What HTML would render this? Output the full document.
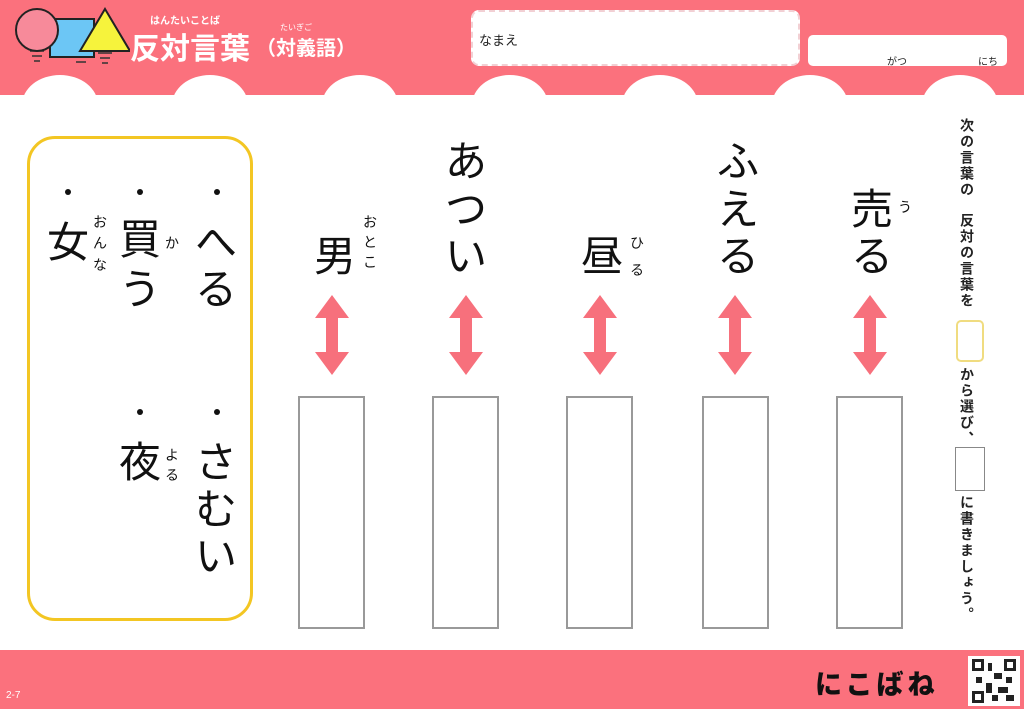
<!DOCTYPE html>
<html><head><meta charset="utf-8"><style>
body{margin:0;width:1024px;height:709px;position:relative;overflow:hidden;background:#fff;font-family:"Liberation Sans","Noto Sans CJK JP",sans-serif}
.a{position:absolute}
.c{position:absolute;width:60px;text-align:center;line-height:1;color:#111}
.b{font-size:42px}
.r{font-size:14px;width:20px}
.dot{position:absolute;width:6px;height:6px;border-radius:50%;background:#111}
.box{position:absolute;border:2px solid #999;background:#fff;box-sizing:border-box}
.bump{position:absolute;top:75px;width:76px;height:60px;border-radius:50%;background:#fff}
.ins{position:absolute;left:957px;writing-mode:vertical-rl;font-size:14px;font-weight:bold;color:#222;letter-spacing:2px}
</style></head><body>
<div class="a" style="left:0;top:0;width:1024px;height:95px;background:#fb717d"></div>
<div class="bump" style="left:22px"></div><div class="bump" style="left:172px"></div><div class="bump" style="left:322px"></div><div class="bump" style="left:472px"></div><div class="bump" style="left:622px"></div><div class="bump" style="left:772px"></div><div class="bump" style="left:922px"></div>
<div class="a" style="left:0;top:95px;width:1024px;height:20px;background:#fff"></div>
<svg class="a" style="left:10px;top:5px" width="120" height="65">
<g stroke="#333" stroke-width="1.5" fill="none"><path d="M20 46h14M22 51h10M24 56h6M64 52h14M66 57h10M88 48h14M90 53h10M92 58h6"/></g>
<rect x="40" y="14" width="44" height="38" fill="#6cc6f5" stroke="#222" stroke-width="2"/>
<circle cx="27" cy="25" r="21" fill="#f78a9a" stroke="#222" stroke-width="2"/>
<polygon points="95,4 120,46 70,46" fill="#f6f33c" stroke="#222" stroke-width="2"/>
</svg>
<div class="a" style="left:150px;top:12px;font-size:10px;color:#fff;font-weight:bold">はんたいことば</div>
<div class="a" style="left:130px;top:24px;font-size:30px;color:#fff;font-weight:bold">反対言葉</div>
<div class="a" style="left:280px;top:22px;font-size:8px;color:#fff">たいぎご</div>
<div class="a" style="left:256px;top:32px;font-size:20px;color:#fff;font-weight:bold">（対義語）</div>
<div class="a" style="left:471px;top:10px;width:329px;height:56px;background:#fff;border:2px dashed #f2d0d4;border-radius:8px;box-sizing:border-box"></div>
<div class="a" style="left:479px;top:30px;font-size:13px;color:#222">なまえ</div>
<div class="a" style="left:808px;top:35px;width:199px;height:31px;background:#fff;border-radius:5px"></div>
<div class="a" style="left:887px;top:53px;font-size:10px;color:#222">がつ</div>
<div class="a" style="left:978px;top:53px;font-size:10px;color:#222">にち</div>

<div class="a" style="left:27px;top:136px;width:226px;height:485px;border:3px solid #f3c623;border-radius:28px;box-sizing:border-box"></div>
<div class="dot" style="left:65px;top:189px"></div><div class="dot" style="left:137px;top:189px"></div><div class="dot" style="left:214px;top:189px"></div><div class="dot" style="left:137px;top:409px"></div><div class="dot" style="left:214px;top:409px"></div>
<div class="c b" style="left:38px;top:222px">女</div>
<div class="c r" style="left:90px;top:215px">お</div><div class="c r" style="left:90px;top:236px">ん</div><div class="c r" style="left:90px;top:258px">な</div>
<div class="c b" style="left:110px;top:219px">買</div><div class="c b" style="left:110px;top:269px">う</div><div class="c r" style="left:162px;top:236px">か</div>
<div class="c b" style="left:186px;top:222px">へ</div><div class="c b" style="left:186px;top:269px">る</div>
<div class="c b" style="left:110px;top:442px">夜</div><div class="c r" style="left:162px;top:448px">よ</div><div class="c r" style="left:162px;top:468px">る</div>
<div class="c b" style="left:186px;top:442px">さ</div><div class="c b" style="left:186px;top:489px">む</div><div class="c b" style="left:186px;top:536px">い</div>

<div class="c b" style="left:305px;top:236px">男</div><div class="c r" style="left:360px;top:215px">お</div><div class="c r" style="left:360px;top:235px">と</div><div class="c r" style="left:360px;top:255px">こ</div>
<div class="c b" style="left:436px;top:141px">あ</div><div class="c b" style="left:436px;top:189px">つ</div><div class="c b" style="left:436px;top:236px">い</div>
<div class="c b" style="left:572px;top:236px">昼</div><div class="c r" style="left:627px;top:236px">ひ</div><div class="c r" style="left:627px;top:263px">る</div>
<div class="c b" style="left:708px;top:141px">ふ</div><div class="c b" style="left:708px;top:189px">え</div><div class="c b" style="left:708px;top:236px">る</div>
<div class="c b" style="left:842px;top:189px">売</div><div class="c b" style="left:842px;top:236px">る</div><div class="c r" style="left:895px;top:200px">う</div>

<svg class="a" style="left:0;top:290px" width="930" height="90">
<defs><g id="ar" fill="#f7707c"><polygon points="0,5 -17,28 -6,28 -6,62 -17,62 0,85 17,62 6,62 6,28 17,28"/></g></defs>
<use href="#ar" x="332"/><use href="#ar" x="466"/><use href="#ar" x="600"/><use href="#ar" x="735"/><use href="#ar" x="870"/>
</svg>
<div class="box" style="left:298px;top:396px;width:67px;height:233px"></div>
<div class="box" style="left:432px;top:396px;width:67px;height:233px"></div>
<div class="box" style="left:566px;top:396px;width:67px;height:233px"></div>
<div class="box" style="left:702px;top:396px;width:67px;height:233px"></div>
<div class="box" style="left:836px;top:396px;width:67px;height:233px"></div>

<div class="ins" style="top:118px">次の言葉の</div>
<div class="ins" style="top:213px">反対の言葉を</div>
<div class="a" style="left:956px;top:320px;width:28px;height:42px;border:2px solid #f0dc80;border-radius:5px;box-sizing:border-box"></div>
<div class="ins" style="top:367px">から選び、</div>
<div class="a" style="left:955px;top:447px;width:30px;height:44px;border:1.5px solid #888;box-sizing:border-box"></div>
<div class="ins" style="top:495px">に書きましょう。</div>

<div class="a" style="left:0;top:650px;width:1024px;height:59px;background:#fb717d"></div>
<div class="a" style="left:6px;top:690px;font-size:10px;color:#fff">2-7</div>
<div class="a" style="left:815px;top:672px;font-size:27px;line-height:1;font-weight:900;color:#111;letter-spacing:4px">にこばね</div>
<div class="a" style="left:968px;top:656px;width:52px;height:50px;background:#fff"></div>
<svg class="a" style="left:972px;top:659px" width="44" height="44"><g fill="#222"><rect x="0" y="0" width="12" height="12"/><rect x="32" y="0" width="12" height="12"/><rect x="0" y="32" width="12" height="12"/><rect x="16" y="4" width="4" height="8"/><rect x="22" y="14" width="8" height="6"/><rect x="14" y="24" width="6" height="10"/><rect x="26" y="28" width="10" height="6"/><rect x="34" y="18" width="6" height="6"/><rect x="4" y="18" width="6" height="6"/><rect x="20" y="36" width="6" height="6"/><rect x="34" y="36" width="8" height="6"/></g><g fill="#fff"><rect x="3" y="3" width="6" height="6"/><rect x="35" y="3" width="6" height="6"/><rect x="3" y="35" width="6" height="6"/></g></svg>
</body></html>
